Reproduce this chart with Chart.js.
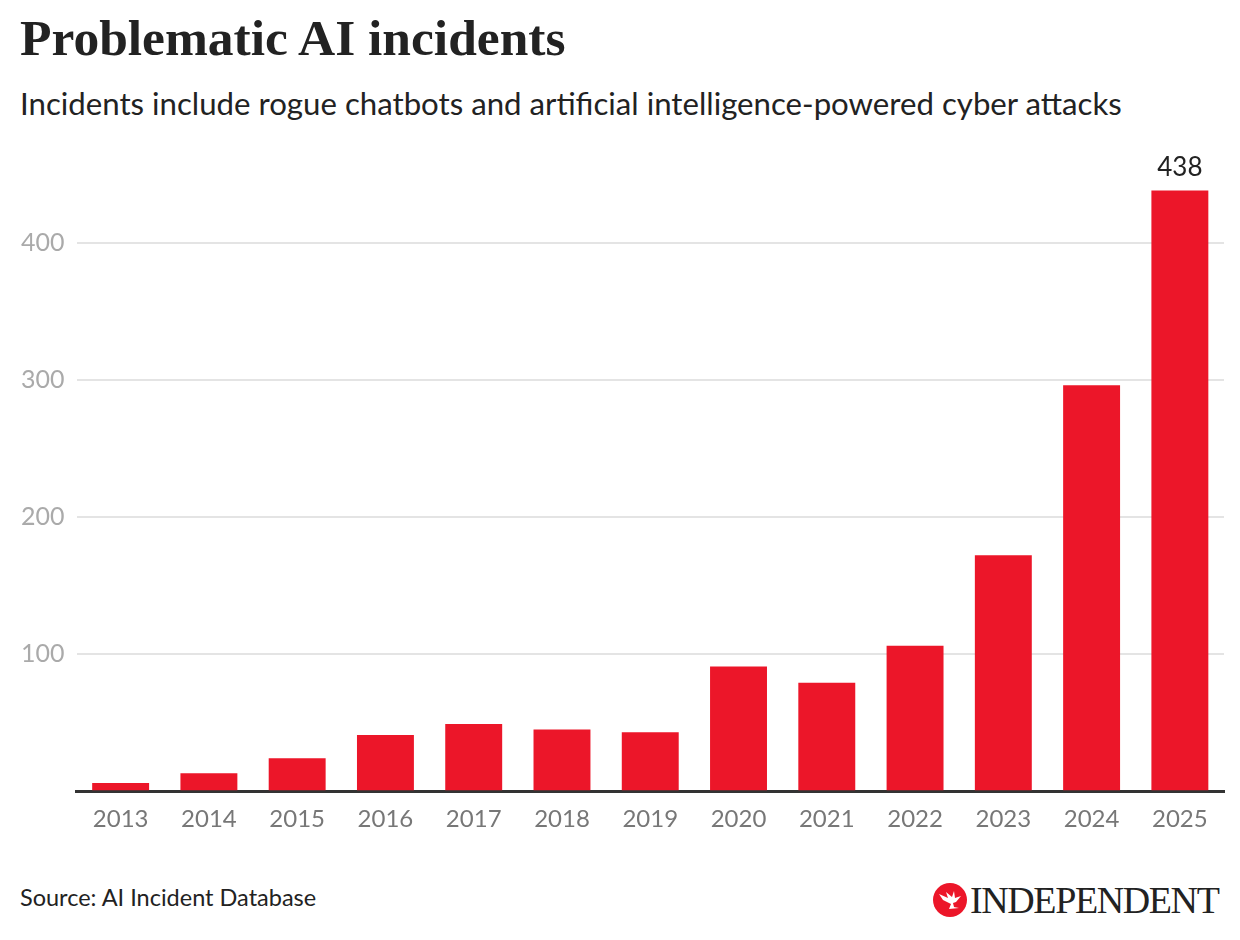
<!DOCTYPE html>
<html>
<head>
<meta charset="utf-8">
<script src="https://cdn.jsdelivr.net/npm/chart.js@4.4.1/dist/chart.umd.min.js"></script>
<style>
    body { margin: 0; background: #fff; width: 1240px; height: 940px; position: relative; overflow: hidden; }
    .title { position: absolute; left: 20px; top: 12px; line-height: 1; font-family: "Liberation Serif", serif; font-weight: bold; font-size: 51.5px; color: #222; }
    .subtitle { position: absolute; left: 20px; top: 88px; line-height: 1; font-family: Lato, sans-serif; font-size: 31.2px; color: #222; }
    .chart-wrap { position: absolute; left: 0; top: 140px; width: 1240px; height: 700px; }
    .source { position: absolute; left: 20px; top: 886px; line-height: 1; font-family: Lato, sans-serif; font-size: 23.5px; color: #222; }
    .logo { position: absolute; left: 933px; top: 878px; display: flex; align-items: center; }
    .logo span { font-family: "Liberation Serif", serif; font-size: 38px; color: #222; margin-left: 3px; letter-spacing: -1.4px; }
</style>
</head>
<body>
<div class="title">Problematic AI incidents</div>
<div class="subtitle">Incidents include rogue chatbots and artificial intelligence-powered cyber attacks</div>
<div class="chart-wrap"><canvas id="barChart"></canvas></div>
<div class="source">Source: AI Incident Database</div>
<div class="logo">
    <svg width="34" height="34" viewBox="0 0 34 34">
        <circle cx="17" cy="17" r="17" fill="#ec1629"/>
        <path d="M6 11 L15 15 L13 9 L19 14 L21 8 L22 15 L28 13 L23 19 L20 20 L21 24 L26 25 L16 26 L18 21 L10 17 Z" fill="#fff"/>
    </svg>
    <span>INDEPENDENT</span>
</div>

<script>
// Data
const years = ['2013', '2014', '2015', '2016', '2017', '2018', '2019', '2020', '2021', '2022', '2023', '2024', '2025'];
const incidents = [6, 13, 24, 41, 49, 45, 43, 91, 79, 106, 172, 296, 438];
const yTicks = [100, 200, 300, 400];

// Label above the final bar only
const lastLabel = {
    id: 'lastLabel',
    afterDatasetsDraw(chart) {
        const meta = chart.getDatasetMeta(0);
        const i = incidents.length - 1;
        const bar = meta.data[i];
        const ctx = chart.ctx;
        ctx.save();
        ctx.font = '26px Lato';
        ctx.fillStyle = '#222';
        ctx.textAlign = 'center';
        ctx.textBaseline = 'bottom';
        ctx.fillText(String(incidents[i]), bar.x, bar.y - 10);
        ctx.restore();
    }
};

new Chart(document.getElementById('barChart'), {
    type: 'bar',
    data: {
        labels: years,
        datasets: [{
            data: incidents,
            backgroundColor: '#ec1629',
            categoryPercentage: 1,
            barPercentage: 0.645
        }]
    },
    options: {
        responsive: true,
        maintainAspectRatio: false,
        animation: false,
        layout: { padding: { top: 34, left: 9, right: 16, bottom: 0 } },
        plugins: { legend: { display: false }, tooltip: { enabled: false } },
        scales: {
            x: {
                grid: { display: false },
                border: { color: '#333', width: 3 },
                ticks: { color: '#777', font: { family: 'Lato', size: 24 }, padding: 6 }
            },
            y: {
                min: 0,
                max: 450,
                afterBuildTicks: (axis) => {
                    axis.ticks = [0, ...yTicks].map(v => ({ value: v }));
                },
                grid: { color: '#e4e4e4', lineWidth: 2, drawTicks: false },
                border: { display: false },
                ticks: {
                    color: '#aaa',
                    font: { family: 'Lato', size: 25 },
                    padding: 12,
                    callback: (v) => yTicks.includes(v) ? v : ''
                }
            }
        }
    },
    plugins: [lastLabel]
});
</script>
</body>
</html>
